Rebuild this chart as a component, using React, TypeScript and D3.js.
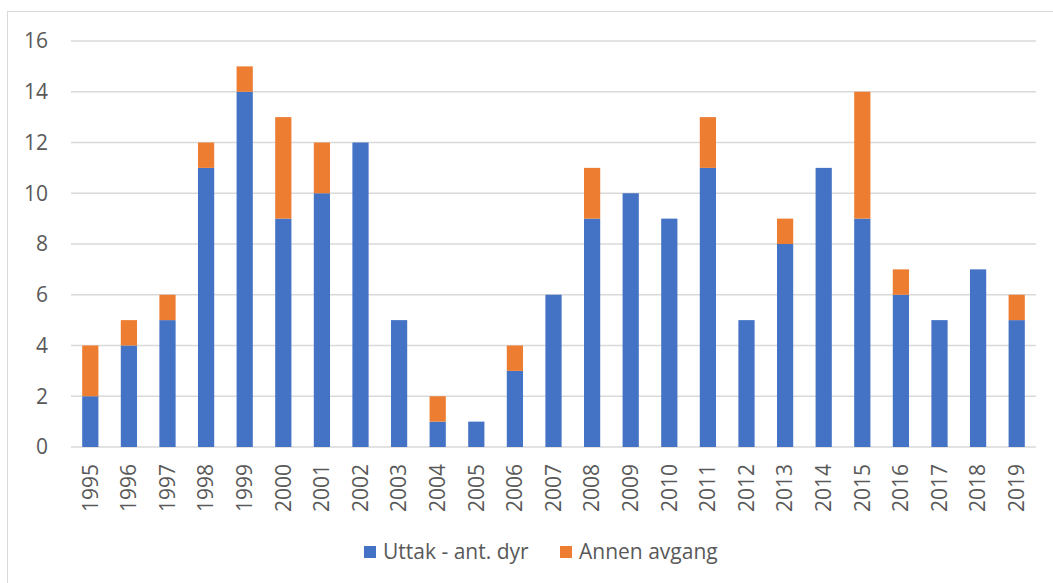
import { useEffect, useRef } from 'react';
import * as d3 from 'd3';

const years = ['1995', '1996', '1997', '1998', '1999', '2000', '2001', '2002', '2003', '2004', '2005', '2006', '2007', '2008', '2009', '2010', '2011', '2012', '2013', '2014', '2015', '2016', '2017', '2018', '2019'];
const uttak = [2, 4, 5, 11, 14, 9, 10, 12, 5, 1, 1, 3, 6, 9, 10, 9, 11, 5, 8, 11, 9, 6, 5, 7, 5];
const annen = [2, 1, 1, 1, 1, 4, 2, 0, 0, 1, 0, 1, 0, 2, 0, 0, 2, 0, 1, 0, 5, 1, 0, 0, 1];
const seriesNames = ['Uttak - ant. dyr', 'Annen avgang'];
const colors = ['#4472C4', '#ED7D31'];
const yTicks = [0, 2, 4, 6, 8, 10, 12, 14, 16];

export default function App() {
  const svgRef = useRef(null);

  useEffect(() => {
    const width = 1053;
    const height = 583;
    const marginLeft = 71;
    const marginRight = 17;
    const marginTop = 41;
    const plotBottom = 447;
    const font = '"Open Sans", sans-serif';
    const fontSize = 21;

    const svg = d3.select(svgRef.current);
    svg.selectAll('*').remove();

    // chart frame
    svg.append('rect')
      .attr('x', 7.5).attr('y', 11.5)
      .attr('width', 1060).attr('height', 600)
      .attr('fill', 'white').attr('stroke', '#d9d9d9');

    const x = d3.scaleBand()
      .domain(years)
      .range([marginLeft, width - marginRight])
      .paddingInner(0.58)
      .paddingOuter(0.29);

    const y = d3.scaleLinear()
      .domain([0, 16])
      .range([plotBottom, marginTop]);

    // gridlines
    svg.append('g')
      .selectAll('line')
      .data(yTicks)
      .join('line')
      .attr('x1', marginLeft)
      .attr('x2', width - marginRight)
      .attr('y1', d => y(d))
      .attr('y2', d => y(d))
      .attr('stroke', '#d9d9d9')
      .attr('stroke-width', 1.5);

    // y labels
    svg.append('g')
      .selectAll('text')
      .data(yTicks)
      .join('text')
      .attr('x', 48)
      .attr('y', d => y(d))
      .attr('dy', '0.35em')
      .attr('text-anchor', 'end')
      .attr('font-family', font)
      .attr('font-size', fontSize)
      .attr('fill', '#595959')
      .text(d => d);

    // stacked bars
    const table = years.map((yr, i) => ({ year: yr, uttak: uttak[i], annen: annen[i] }));
    const stack = d3.stack().keys(['uttak', 'annen'])(table);

    svg.append('g')
      .selectAll('g')
      .data(stack)
      .join('g')
      .attr('fill', (d, i) => colors[i])
      .selectAll('rect')
      .data(d => d)
      .join('rect')
      .attr('x', d => x(d.data.year))
      .attr('y', d => y(d[1]))
      .attr('width', x.bandwidth())
      .attr('height', d => y(d[0]) - y(d[1]));

    // x labels
    svg.append('g')
      .selectAll('text')
      .data(years)
      .join('text')
      .attr('transform', d => `translate(${x(d) + x.bandwidth() / 2},464) rotate(-90)`)
      .attr('dy', '0.35em')
      .attr('text-anchor', 'end')
      .attr('font-family', font)
      .attr('font-size', fontSize)
      .attr('fill', '#595959')
      .text(d => d);

    // legend
    const legendX = [364, 560];
    const legend = svg.append('g');
    seriesNames.forEach((name, i) => {
      legend.append('rect')
        .attr('x', legendX[i]).attr('y', 546)
        .attr('width', 12).attr('height', 12)
        .attr('fill', colors[i]);
      legend.append('text')
        .attr('x', legendX[i] + 19).attr('y', 552)
        .attr('dy', '0.35em')
        .attr('font-family', font)
        .attr('font-size', fontSize)
        .attr('fill', '#595959')
        .text(name);
    });
  }, []);

  return (
    <svg
      ref={svgRef}
      width={1053}
      height={583}
      style={{ position: 'absolute', left: 0, top: 0, display: 'block', background: 'white' }}
    />
  );
}
